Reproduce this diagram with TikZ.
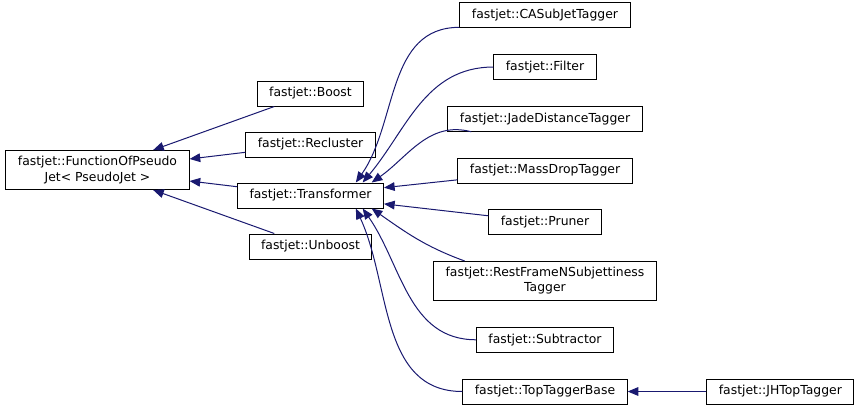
\documentclass[tikz,border=0pt]{standalone}
\usepackage{fontspec}
\setmainfont{DejaVu Sans}
\usepackage{tikz}
\usetikzlibrary{arrows.meta,positioning}
\definecolor{midblue}{RGB}{25,25,112}

\begin{document}
\begin{tikzpicture}[
  x=0.75pt, y=0.75pt,
  font=\fontsize{9.3}{11.3}\selectfont,
  cls/.style={draw, fill=white, align=center, inner xsep=9pt, inner ysep=4.5pt, minimum height=18.75pt, line width=0.75pt},
  inh/.style={-{Triangle[length=8pt,width=6.5pt]}, midblue, line width=0.75pt},
  node distance=18.75pt,
]
\useasboundingbox (0,0) rectangle (859,-408);
\node[cls] (fop) at (97.5,-170) {fastjet::FunctionOfPseudo\\Jet< PseudoJet >};
\node[cls] (trans) at (310.5,-195.5) {fastjet::Transformer};
\node[cls, above=of trans] (recl) {fastjet::Recluster};
\node[cls, above=of recl] (boost) {fastjet::Boost};
\node[cls, below=of trans] (unboost) {fastjet::Unboost};
\begin{scope}[node distance=19.3pt]
\node[cls] (mdt) at (545,-170.5) {fastjet::MassDropTagger};
\node[cls, above=of mdt] (jade) {fastjet::JadeDistanceTagger};
\node[cls, above=of jade] (filt) {fastjet::Filter};
\node[cls, above=of filt] (cas) {fastjet::CASubJetTagger};
\node[cls, below=of mdt] (prun) {fastjet::Pruner};
\node[cls, below=of prun] (rfn) {fastjet::RestFrameNSubjettiness\\Tagger};
\node[cls, below=of rfn] (subt) {fastjet::Subtractor};
\node[cls, below=of subt] (ttb) {fastjet::TopTaggerBase};
\end{scope}
\node[cls, right=59pt of ttb] (jht) {fastjet::JHTopTagger};
\draw[inh] (boost) -- (fop);
\draw[inh] (recl) -- (fop);
\draw[inh] (trans) -- (fop);
\draw[inh] (unboost) -- (fop);
\draw[inh] (cas.188) to[out=180, in=55] (trans.16);
\draw[inh] (filt.west) to[out=180, in=50] (trans.14);
\draw[inh] (jade.190) to[out=165, in=35] (trans.12);
\draw[inh] (mdt) -- (trans);
\draw[inh] (prun) -- (trans);
\draw[inh] (rfn.166) to[out=160, in=-35] (trans.-12);
\draw[inh] (subt.west) to[out=180, in=-55] (trans.-14);
\draw[inh] (ttb.west) to[out=180, in=-65] (trans.-16);
\draw[inh] (jht) -- (ttb);
\end{tikzpicture}
\end{document}
